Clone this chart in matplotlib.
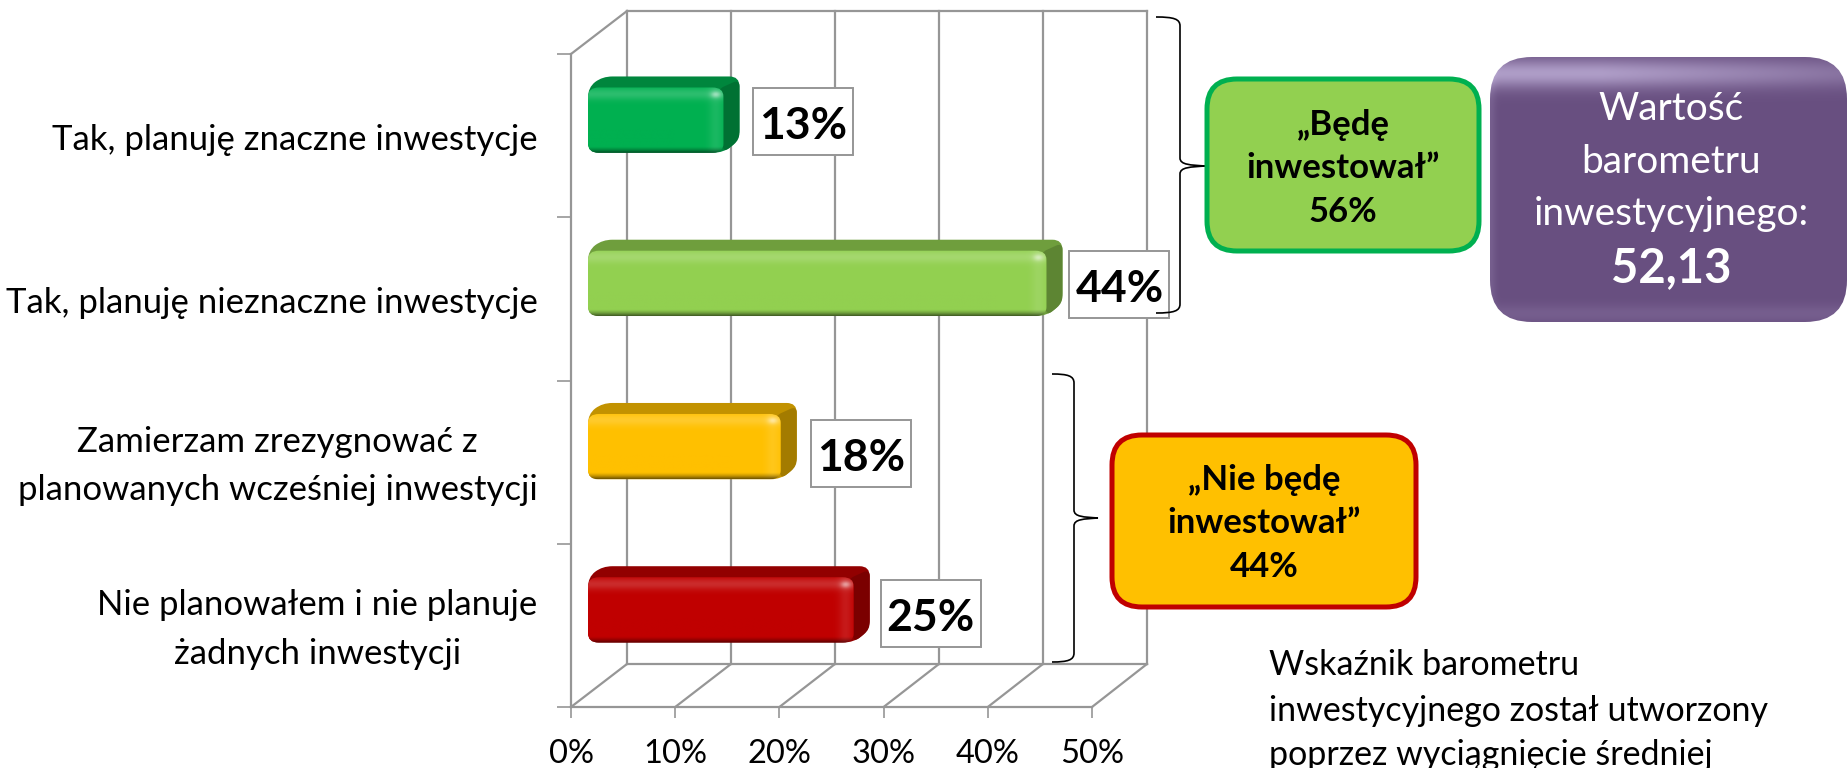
import numpy as np
import matplotlib
matplotlib.use("Agg")
import matplotlib.pyplot as plt
from matplotlib.path import Path
from matplotlib.patches import PathPatch, FancyBboxPatch, Rectangle
from matplotlib.colors import to_rgb

plt.rcParams['font.family'] = ['Lato', 'DejaVu Sans']

# chart data
categories = ["Tak, planuję znaczne inwestycje",
              "Tak, planuję nieznaczne inwestycje",
              "Zamierzam zrezygnować z\nplanowanych wcześniej inwestycji",
              "Nie planowałem i nie planuje\nżadnych inwestycji"]
values = [13, 44, 18.5, 25.5]
value_labels = ["13%", "44%", "18%", "25%"]
bar_colors = ["#00B050", "#92D050", "#FFC000", "#C00000"]
x_ticks = [0, 10, 20, 30, 40, 50]
x_labels = ["0%", "10%", "20%", "30%", "40%", "50%"]

W, H = 1847, 768
GRID = "#969696"

fig = plt.figure(figsize=(W / 100, H / 100), dpi=100)
ax = fig.add_axes([571 / W, 1 - 707 / H, 521 / W, 653 / H])
ax.set_xlim(0, 50)
ax.set_ylim(3.5, -0.5)
for s in ax.spines.values():
    s.set_visible(False)
ax.patch.set_alpha(0)

# size of one pixel in data units
PX = 50 / 521
PY = 4 / 653


def wall_lines():
    dx, dy = 56 * PX, 43 * PY
    top, bottom = -0.5, 3.5
    kw = dict(color=GRID, lw=1.6, clip_on=False, zorder=1, solid_capstyle='projecting')
    ax.plot([0, 0], [top, bottom], **kw)
    ax.plot([0, dx], [top, top - dy], **kw)
    ax.plot([dx, 50 + dx - 0.1], [top - dy, top - dy], **kw)
    ax.plot([0, 50], [bottom, bottom], **kw)
    ax.plot([dx, 50 + dx - 0.1], [bottom - dy, bottom - dy], **kw)
    for t in x_ticks:
        ax.plot([t + dx - 0.02 * t / 10, t + dx - 0.02 * t / 10], [top - dy, bottom - dy], **kw)
        ax.plot([t, t + dx - 0.02 * t / 10], [bottom, bottom - dy], **kw)


def rounded(pts, rx, ry):
    # closed path through pts with small curved corners
    verts, codes = [], []
    n = len(pts)
    for i in range(n):
        p = np.array(pts[i], float)
        a = np.array(pts[i - 1], float)
        b = np.array(pts[(i + 1) % n], float)
        scale = np.array([1 / rx, 1 / ry])
        to_a = (a - p) * scale
        to_b = (b - p) * scale
        s = p + (a - p) * min(0.5, 1 / np.hypot(*to_a))
        e = p + (b - p) * min(0.5, 1 / np.hypot(*to_b))
        verts += [s, p, e]
        codes += [Path.MOVETO if i == 0 else Path.LINETO, Path.CURVE3, Path.CURVE3]
    verts.append(verts[0])
    codes.append(Path.CLOSEPOLY)
    return Path(verts, codes)


def draw_bar(i, value, color):
    base = np.array(to_rgb(color))
    top_col = base * 0.76
    side_col = base * 0.64
    dx, dy = 16 * PX, 11 * PY
    left = 17 * PX
    right = left + value
    t = i - 0.095 - 0.2
    b = i - 0.095 + 0.2
    z = 3 + i * 0.1

    outline = rounded([(left, b), (left, t), (left + dx * 0.9, t - dy),
                       (right + dx, t - dy), (right + dx, b - dy - 2 * PY), (right, b)],
                      10 * PX, 10 * PY)
    ax.add_patch(PathPatch(outline, fc=top_col, ec='none', zorder=z, clip_on=False))
    side = rounded([(right - 6 * PX, t + 2 * PY), (right + dx, t - dy + 3 * PY),
                    (right + dx, b - dy - 2 * PY), (right, b)], 7 * PX, 7 * PY)
    ax.add_patch(PathPatch(side, fc=side_col, ec='none', zorder=z + 0.01, clip_on=False))

    # front face with its bevel shading
    rows, cols = 90, 400
    u = np.linspace(0, 1, rows)[:, None]
    v = np.linspace(0, 1, cols)[None, :]
    width_px = (right - left) / PX
    light = 0.17 * np.exp(-((u - 0.1) / 0.09) ** 2) * (v < 1)
    light = light + 0.10 * np.exp(-(((1 - v) * width_px - 8) / 7) ** 2)
    light = light + 0.35 * np.exp(-((u - 0.11) / 0.05) ** 2) * np.exp(-(((1 - v) * width_px - 8) / 5) ** 2)
    dark = 0.55 * np.clip((u - 0.9) / 0.1, 0, 1) ** 1.5
    img = base[None, None, :] * (1 - dark[..., None]) + (1 - base[None, None, :]) * light[..., None] * (1 - dark[..., None])
    face = rounded([(left, t), (right, t), (right, b), (left, b)], 11 * PX, 9 * PY)
    im = ax.imshow(np.clip(img, 0, 1), extent=(left, right, b, t), origin='upper', aspect='auto',
                   interpolation='bilinear', zorder=z + 0.02, clip_on=True)
    im.set_clip_path(PathPatch(face, transform=ax.transData))


wall_lines()
for i, (v, c) in enumerate(zip(values, bar_colors)):
    draw_bar(i, v, c)
ax.set_xlim(0, 50)
ax.set_ylim(3.5, -0.5)

# axis ticks and labels
ax.set_xticks(x_ticks, x_labels, fontsize=23.5)
ax.tick_params(axis='x', length=8, width=1.2, color=GRID, pad=15, labelcolor='black')
ax.set_yticks([-0.5, 0.5, 1.5, 2.5, 3.5], [""] * 5)
ax.tick_params(axis='y', which='major', length=10, width=1.2, color=GRID)
ax.set_yticks([i + 0.024 for i in range(4)], categories, minor=True, fontsize=25,
              multialignment='center', linespacing=1.65)
ax.tick_params(axis='y', which='minor', length=0, pad=24)
for lab in ax.get_yticklabels(minor=True):
    lab.set_va('center')

# value labels
label_gaps = [30, 23, 30, 27]
label_shift = [1, 1, 6, 3]
for i, (v, txt, gap, sh) in enumerate(zip(values, value_labels, label_gaps, label_shift)):
    x = 17 * PX + v + (gap + 50) * PX
    yc = i - 0.095 + sh * PY
    ax.text(x, yc + 5 * PY, txt, fontsize=32, fontweight='bold', ha='center', va='center',
            zorder=6, clip_on=False)
    ax.add_patch(Rectangle((x - 50 * PX, yc - 33 * PY), 100 * PX, 67 * PY, fc='white', ec=GRID,
                           lw=1.4, zorder=5, clip_on=False))

# overlay in pixel coordinates for the boxes and braces
ann = fig.add_axes([0, 0, 1, 1])
ann.set_xlim(0, W)
ann.set_ylim(H, 0)
ann.axis('off')
ann.patch.set_alpha(0)


def brace(x0, xs, xt, y0, ym, y1):
    verts = [(x0, y0), (xs - 6, y0), (xs, y0 + 2), (xs, y0 + 9),
             (xs, ym - 8), (xs, ym - 1), (xt - 14, ym - 1), (xt, ym),
             (xt - 14, ym + 1), (xs, ym + 1), (xs, ym + 8),
             (xs, y1 - 9), (xs, y1 - 2), (xs - 6, y1), (x0, y1)]
    codes = [Path.MOVETO, Path.CURVE4, Path.CURVE4, Path.CURVE4,
             Path.LINETO, Path.CURVE4, Path.CURVE4, Path.CURVE4,
             Path.CURVE4, Path.CURVE4, Path.CURVE4,
             Path.LINETO, Path.CURVE4, Path.CURVE4, Path.CURVE4]
    ann.add_patch(PathPatch(Path(verts, codes), fc='none', ec='black', lw=1.2))


brace(1156, 1180, 1205, 17, 166, 313)
brace(1052, 1074, 1098, 374, 518, 662)


def box(x0, y0, x1, y1, fc, ec):
    r = 30
    ann.add_patch(FancyBboxPatch((x0 + r, y0 + r), x1 - x0 - 2 * r, y1 - y0 - 2 * r,
                                 boxstyle=f"round,pad={r},rounding_size={r}", fc=fc, ec=ec, lw=3.6))


box(1207, 79, 1479, 251, "#92D050", "#00B050")
box(1112, 435, 1416, 607, "#FFC000", "#C00000")

for y, s in zip([125, 168, 212], ["„Będę", "inwestował”", "56%"]):
    ann.text(1343, y, s, fontsize=25, fontweight='bold', ha='center', va='center')
for y, s in zip([480, 523, 567], ["„Nie będę", "inwestował”", "44%"]):
    ann.text(1264, y, s, fontsize=25, fontweight='bold', ha='center', va='center')

# purple bevelled box
px0, py0, px1, py1 = 1490, 57, 1847, 322
pr = 42
gh, gw = 265, 357
yy = np.linspace(0, 1, gh)[:, None]
xx = np.linspace(0, 1, gw)[None, :]
purple = np.array(to_rgb("#684F80"))
hi = 0.62 * np.exp(-((yy - 0.06) / 0.055) ** 2) * np.clip(1.25 - xx * 0.8, 0, 1)
hi = hi + 0.12 * np.exp(-((yy - 0.97) / 0.035) ** 2)
edge = 0.12 * np.exp(-(xx / 0.015) ** 2)
shade = (hi + edge)[..., None]
pimg = purple[None, None, :] * (1 - shade) + np.array([0.85, 0.8, 0.95])[None, None, :] * shade
pbox = FancyBboxPatch((px0 + pr, py0 + pr), px1 - px0 - 2 * pr, py1 - py0 - 2 * pr,
                      boxstyle=f"round,pad={pr},rounding_size={pr}", fc='none', ec='none',
                      transform=ann.transData)
ann.add_patch(pbox)
pim = ann.imshow(np.clip(pimg, 0, 1), extent=(px0, px1, py1, py0), origin='upper', aspect='auto',
                 interpolation='bilinear')
pim.set_clip_path(pbox)
ann.set_xlim(0, W)
ann.set_ylim(H, 0)

for y, s in zip([109, 162, 214], ["Wartość", "barometru", "inwestycyjnego:"]):
    ann.text(1671, y, s, fontsize=28, color='white', ha='center', va='center')
ann.text(1671, 268, "52,13", fontsize=34, color='white', fontweight='bold', ha='center', va='center')

# note text, runs off the bottom edge like in the source
for y, s in zip([665, 711, 755], ["Wskaźnik barometru", "inwestycyjnego został utworzony",
                                  "poprzez wyciągnięcie średniej"]):
    ann.text(1269, y, s, fontsize=24.5, ha='left', va='center')

fig.savefig("out.png", dpi=100)
